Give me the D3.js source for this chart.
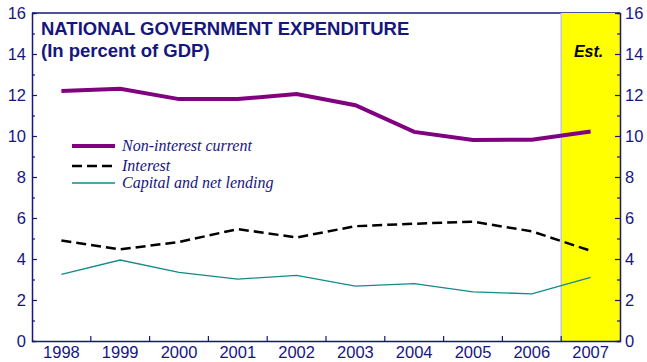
<!DOCTYPE html>
<html><head><meta charset="utf-8">
<script src="https://cdn.jsdelivr.net/npm/d3@7/dist/d3.min.js"></script>
<style>body{margin:0;background:#fff;}svg{display:block;}</style>
</head><body>
<svg id="c" width="647" height="362"></svg>
<script>
const years = ["1998","1999","2000","2001","2002","2003","2004","2005","2006","2007"];
const nonInterest = [12.2, 12.3, 11.8, 11.8, 12.05, 11.5, 10.2, 9.8, 9.82, 10.22];
const interest = [4.9, 4.47, 4.83, 5.46, 5.05, 5.6, 5.72, 5.82, 5.35, 4.4];
const capital = [3.25, 3.95, 3.35, 3.02, 3.2, 2.68, 2.8, 2.4, 2.3, 3.1];
const yTicks = [0,2,4,6,8,10,12,14,16];
const estYear = "2007";

const navy = "#16167f";
const svg = d3.select("#c");
const L = 32, R = 620, T = 13, B = 341;
const x = d3.scaleBand().domain(years).range([L, R]);
const y = d3.scaleLinear().domain([0,16]).range([B, T]);
const cx = d => x(d) + x.bandwidth()/2;

// top frame
svg.append("line").attr("x1",L).attr("x2",R).attr("y1",T).attr("y2",T).attr("stroke",navy).attr("stroke-width",1.5);
// estimate band
svg.append("rect").attr("x",x(estYear)).attr("y",T).attr("width",x.bandwidth()).attr("height",B-T).attr("fill","#ffff00");
svg.append("line").attr("x1",x(estYear)).attr("x2",x(estYear)).attr("y1",T).attr("y2",B).attr("stroke","#c8c8c8").attr("stroke-width",1.5);
svg.append("text").attr("x",cx(estYear)-2).attr("y",57).attr("text-anchor","middle")
  .attr("font-family","Liberation Sans, Arial, sans-serif").attr("font-weight","bold").attr("font-style","italic")
  .attr("font-size",16).attr("fill","#000").text("Est.");

// axes
const minor = d3.range(0,17,1);
const leftAx = svg.append("g").attr("transform",`translate(${L},0)`)
  .call(d3.axisLeft(y).tickValues(minor).tickSize(-3).tickFormat(""));
leftAx.selectAll(".tick line").attr("stroke-width",1.2).attr("x2", d => d%2===0 ? 5 : 3);
const rightAx = svg.append("g").attr("transform",`translate(${R},0)`)
  .call(d3.axisRight(y).tickValues(minor).tickSize(-3).tickFormat(""));
rightAx.selectAll(".tick line").attr("stroke-width",1.2).attr("x2", d => d%2===0 ? -5 : -3);
[leftAx,rightAx].forEach(a=>{a.selectAll("path,line").attr("stroke",navy); a.select(".domain").attr("stroke-width",1.5);});

const lab = {"font-family":"Liberation Sans, Arial, sans-serif","font-size":16.5,"fill":navy};
function applyLab(s){Object.entries(lab).forEach(([k,v])=>s.attr(k,v));return s;}
yTicks.forEach(v=>{
  applyLab(svg.append("text").attr("x",26).attr("y",y(v)).attr("dy","0.36em").attr("text-anchor","end").text(v));
  applyLab(svg.append("text").attr("x",625).attr("y",y(v)).attr("dy","0.36em").attr("text-anchor","start").text(v));
});

const bot = svg.append("g").attr("transform",`translate(0,${B})`)
  .call(d3.axisBottom(x).tickSize(0).tickFormat(""));
bot.select(".domain").attr("stroke",navy).attr("stroke-width",1.5);
years.slice(1).forEach(yr=>{
  svg.append("line").attr("x1",x(yr)).attr("x2",x(yr)).attr("y1",B).attr("y2",B-5).attr("stroke",navy).attr("stroke-width",1.2);
});
years.forEach(yr=>{
  applyLab(svg.append("text").attr("x",cx(yr)).attr("y",358).attr("text-anchor","middle").text(yr));
});

// lines
const line = d3.line().x((d,i)=>cx(years[i])).y(d=>y(d));
svg.append("path").datum(capital).attr("d",line).attr("fill","none").attr("stroke","#128a8a").attr("stroke-width",1.3);
svg.append("path").datum(interest).attr("d",line).attr("fill","none").attr("stroke","#000").attr("stroke-width",2.5).attr("stroke-dasharray","10,5");
svg.append("path").datum(nonInterest).attr("d",line).attr("fill","none").attr("stroke","#800080").attr("stroke-width",4);

// title
const tf = "Liberation Sans, Arial, sans-serif";
svg.append("text").attr("x",41).attr("y",35).attr("font-family",tf).attr("font-weight","bold").attr("font-size",18.5).attr("fill",navy).text("NATIONAL GOVERNMENT EXPENDITURE");
svg.append("text").attr("x",41).attr("y",57).attr("font-family",tf).attr("font-weight","bold").attr("font-size",18.5).attr("fill",navy).text("(In percent of GDP)");

// legend
const legend = [
  {name:"Non-interest current", color:"#800080", w:4, dash:null, y:146},
  {name:"Interest", color:"#000", w:2.5, dash:"10,5", y:166},
  {name:"Capital and net lending", color:"#128a8a", w:1.3, dash:null, y:183}
];
legend.forEach(l=>{
  svg.append("line").attr("x1",72).attr("x2",115).attr("y1",l.y).attr("y2",l.y).attr("stroke",l.color).attr("stroke-width",l.w).attr("stroke-dasharray",l.dash);
  svg.append("text").attr("x",122).attr("y",l.y+4.5).attr("font-family","Liberation Serif, Times New Roman, serif").attr("font-style","italic").attr("font-size",16).attr("fill",navy).text(l.name);
});
</script>
</body></html>
